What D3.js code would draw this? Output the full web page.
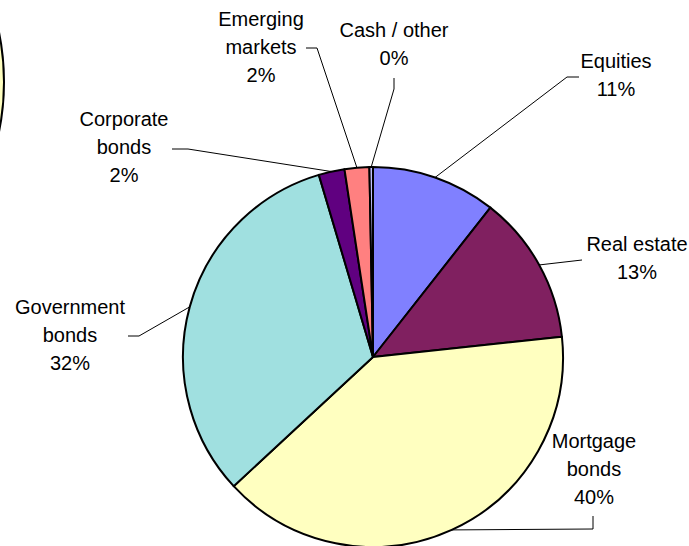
<!DOCTYPE html>
<html>
<head>
<meta charset="utf-8">
<script src="https://cdn.jsdelivr.net/npm/d3@7"></script>
<style>
  body { margin: 0; background: #fff; }
  text { font-family: "Liberation Sans", Arial, sans-serif; font-size: 20px; fill: #000; }
</style>
</head>
<body>
<div id="chart"></div>
<script>
// shares of the portfolio, clockwise from 12 o'clock
const categories = ["Equities", "Real estate", "Mortgage bonds", "Government bonds", "Corporate bonds", "Emerging markets", "Cash / other"];
const values = [10.6, 12.7, 39.8, 32.3, 2.2, 2.1, 0.3];
const labelText = ["11%", "13%", "40%", "32%", "2%", "2%", "0%"];
const colors = ["#8080FF", "#802060", "#FFFFC0", "#A0E0E0", "#600080", "#FF8080", "#C0C0FF"];

// manual label layout (like the hand-dragged labels of the original)
const labelLayout = [
  {lines: ["Equities"], x: 616, y: 68, stub: [[579, 77], [567, 77]]},
  {lines: ["Real estate"], x: 637, y: 251, stub: [[582, 260]]},
  {lines: ["Mortgage", "bonds"], x: 594, y: 448, stub: [[593, 516], [593, 529]]},
  {lines: ["Government", "bonds"], x: 70, y: 314, stub: [[128, 336], [139, 336]]},
  {lines: ["Corporate", "bonds"], x: 124, y: 126, stub: [[172, 149], [188, 149]]},
  {lines: ["Emerging", "markets"], x: 261, y: 26, stub: [[306, 48], [317, 48]]},
  {lines: ["Cash / other"], x: 394, y: 37, stub: [[394, 78], [394, 89]]}
];

const width = 689, height = 546;
const cx = 373, cy = 357, radius = 190;
const lineGap = 28;

const svg = d3.select("#chart").append("svg")
    .attr("width", width)
    .attr("height", height);

// edge of a neighbouring object cut off at the left border
svg.append("ellipse")
    .attr("cx", -246).attr("cy", 82)
    .attr("rx", 250).attr("ry", 250)
    .attr("fill", "#FFFFC0")
    .attr("stroke", "#000")
    .attr("stroke-width", 2);

const pie = d3.pie().sort(null).value(d => d);
const arcs = pie(values);

const arc = d3.arc().innerRadius(0).outerRadius(radius);
const edge = d3.arc().innerRadius(radius).outerRadius(radius);

const g = svg.append("g")
    .attr("transform", `translate(${cx},${cy})`);

g.selectAll("path.slice")
  .data(arcs)
  .join("path")
    .attr("class", "slice")
    .attr("d", arc)
    .attr("fill", (d, i) => colors[i])
    .attr("stroke", "#000")
    .attr("stroke-width", 2)
    .attr("stroke-linejoin", "round");

// leader lines from label to middle of each slice's rim
const line = d3.line();
svg.selectAll("path.leader")
  .data(arcs)
  .join("path")
    .attr("class", "leader")
    .attr("fill", "none")
    .attr("stroke", "#000")
    .attr("stroke-width", 1)
    .attr("d", (d, i) => {
      const c = edge.centroid(d);
      const pts = labelLayout[i].stub.concat([[cx + c[0], cy + c[1]]]);
      return line(pts);
    });

const labels = svg.selectAll("text.lbl")
  .data(arcs)
  .join("text")
    .attr("class", "lbl")
    .attr("text-anchor", "middle");

labels.each(function(d, i) {
  const lay = labelLayout[i];
  const t = d3.select(this);
  lay.lines.concat([labelText[i]]).forEach((s, k) => {
    t.append("tspan")
      .attr("x", lay.x)
      .attr("y", lay.y + k * lineGap)
      .text(s);
  });
});
</script>
</body>
</html>
